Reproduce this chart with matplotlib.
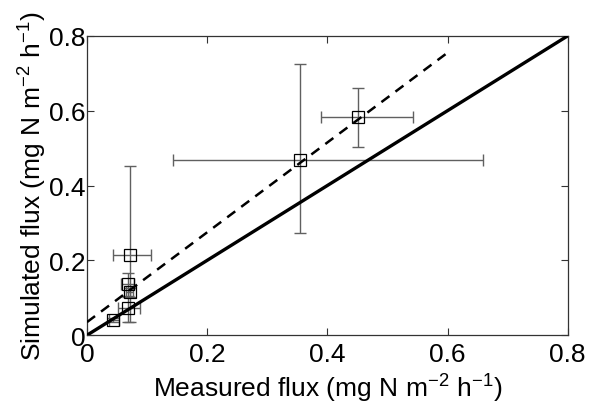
import numpy as np
import matplotlib
matplotlib.use("Agg")
from matplotlib import pyplot as plt

plt.rcParams["font.family"] = ["Liberation Sans", "DejaVu Sans"]
plt.rcParams["mathtext.fontset"] = "custom"
plt.rcParams["mathtext.rm"] = "Liberation Sans"
plt.rcParams["mathtext.it"] = "Liberation Sans"

# measured vs simulated flux, with (asymmetric) error bars
measured = [0.072, 0.068, 0.071, 0.068, 0.043, 0.354, 0.451]
simulated = [0.214, 0.136, 0.115, 0.072, 0.040, 0.468, 0.583]
measured_lo = [0.029, 0.011, 0.006, 0.016, 0.007, 0.211, 0.062]
measured_hi = [0.035, 0.011, 0.006, 0.020, 0.010, 0.305, 0.091]
simulated_lo = [0.180, 0.030, 0.012, 0.037, 0.005, 0.195, 0.080]
simulated_hi = [0.238, 0.030, 0.012, 0.030, 0.005, 0.257, 0.077]

# fitted regression line (dashed) and 1:1 line
fit_x = [0.0, 0.6]
fit_y = [0.035, 0.755]
one_x = [0.0, 0.8]
one_y = [0.0, 0.8]

ticks = [0, 0.2, 0.4, 0.6, 0.8]
tick_labels = ["0", "0.2", "0.4", "0.6", "0.8"]

fig = plt.figure(figsize=(5.92, 4.14), dpi=100)
ax = fig.add_axes([0.147, 0.188, 0.812, 0.723])

ax.errorbar(measured, simulated, xerr=[measured_lo, measured_hi],
            yerr=[simulated_lo, simulated_hi],
            fmt="none", ecolor="#606060", elinewidth=1.0, capsize=4, capthick=1.0,
            zorder=2)
ax.plot(measured, simulated, "s", mfc="none", mec="black", ms=8, mew=0.9, zorder=3)
ax.plot(fit_x, fit_y, "k--", lw=1.8, dashes=(4, 3), zorder=4)
ax.plot(one_x, one_y, "k-", lw=2.4, zorder=4)

ax.set_xlim(0, 0.8)
ax.set_ylim(0, 0.8)
ax.set_xticks(ticks)
ax.set_xticklabels(tick_labels)
ax.set_yticks(ticks)
ax.set_yticklabels(tick_labels)
ax.tick_params(direction="in", top=True, right=True, labelsize=19, length=5,
               pad=1, color="#333333")
ax.tick_params(axis="x", pad=5)
for s in ax.spines.values():
    s.set_color("#333333")
    s.set_linewidth(0.9)

ax.set_xlabel(r"Measured flux (mg N m$^{-2}$ h$^{-1}$)", fontsize=19, labelpad=4)
ax.set_ylabel(r"Simulated flux (mg N m$^{-2}$ h$^{-1}$)", fontsize=19, labelpad=0)

fig.savefig("out.png", dpi=100)
